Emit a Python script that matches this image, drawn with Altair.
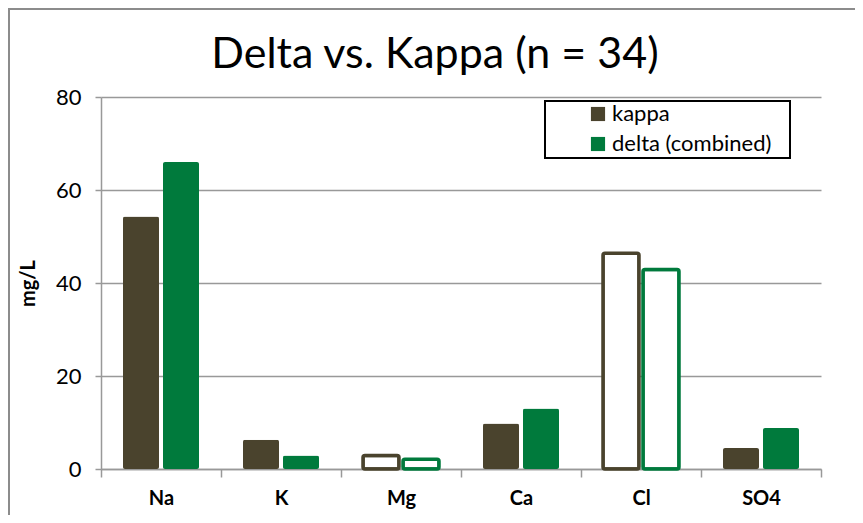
import altair as alt
import pandas as pd

ions = ["Na", "K", "Mg", "Ca", "Cl", "SO4"]
kappa = [54.3, 6.3, 2.9, 9.8, 46.4, 4.5]
delta = [66.0, 2.9, 2.1, 13.0, 42.9, 8.8]
hollow_ions = ["Mg", "Cl"]
series = ["kappa", "delta (combined)"]
colors = ["#4A432D", "#007A3C"]

rows = []
for i, ion in enumerate(ions):
    rows.append({"ion": ion, "series": series[0], "value": kappa[i], "hollow": ion in hollow_ions})
    rows.append({"ion": ion, "series": series[1], "value": delta[i], "hollow": ion in hollow_ions})
df = pd.DataFrame(rows)

W, H = 720, 372
FONT = "Lato"

xenc = alt.X("ion:N", sort=ions, title=None,
             scale=alt.Scale(paddingInner=0, paddingOuter=0),
             axis=alt.Axis(labelFontWeight="bold", labelFontSize=20, labelColor="#000",
                           labelAngle=0, labelPadding=11, tickBand="extent", tickSize=8,
                           tickColor="#999", domainColor="#999", tickWidth=1.5, domainWidth=1.5,
                           labelFont=FONT))
xoff = alt.XOffset("series:N", sort=series,
                   scale=alt.Scale(paddingInner=0.1, paddingOuter=0.55))
yenc = alt.Y("value:Q", title="mg/L",
             scale=alt.Scale(domain=[0, 80], nice=False),
             axis=alt.Axis(values=[0, 20, 40, 60, 80], labelFontSize=22, labelColor="#000",
                           labelFont=FONT, titleFont=FONT, titleFontSize=20, titleFontWeight="bold",
                           titleColor="#000", titlePadding=17, labelPadding=14, tickSize=6,
                           tickColor="#999", domainColor="#999", gridColor="#999",
                           gridWidth=1.5, tickWidth=1.5, domainWidth=1.5))
color_scale = alt.Scale(domain=series, range=colors)

border = alt.Chart(df).mark_rect(fill="transparent", stroke="#8c8c8c", strokeWidth=2).encode(
    x=alt.value(-92), x2=alt.value(800), y=alt.value(-88), y2=alt.value(480))

solid = alt.Chart(df).transform_filter("!datum.hollow").mark_bar(cornerRadius=2).encode(
    x=xenc, xOffset=xoff, y=yenc,
    fill=alt.Fill("series:N", scale=color_scale, sort=series,
                  legend=alt.Legend(title=None, orient="none", legendX=486, legendY=6,
                                    labelFont=FONT, labelFontSize=22, labelColor="#000",
                                    symbolType="square", symbolSize=200, symbolStrokeWidth=0,
                                    rowPadding=8, labelOffset=3)),
)

hollow = alt.Chart(df).transform_filter("datum.hollow").mark_bar(
    cornerRadius=2, fill="white", strokeWidth=3.5).encode(
    x=xenc, xOffset=xoff, y=yenc,
    stroke=alt.Stroke("series:N", scale=color_scale, sort=series, legend=None),
)

legend_box = alt.Chart(df).mark_rect(fill="transparent", stroke="#000", strokeWidth=2).encode(
    x=alt.value(444), x2=alt.value(689), y=alt.value(4), y2=alt.value(61))

chart = alt.layer(border, solid, hollow, legend_box).properties(
    width=W, height=H,
    autosize=alt.AutoSizeParams(type="none"),
    padding={"left": 93, "top": 89, "right": 34, "bottom": 46},
    title=alt.TitleParams("Delta vs. Kappa (n = 34)", font=FONT, fontSize=43,
                          fontWeight="normal", color="#000", anchor="middle", frame="group",
                          dx=-26, dy=69, offset=0),
).configure_view(stroke=None).configure_axisY(grid=True).configure_axisX(grid=False)

chart.save("out.html", embed_options={"renderer": "svg", "actions": False})
